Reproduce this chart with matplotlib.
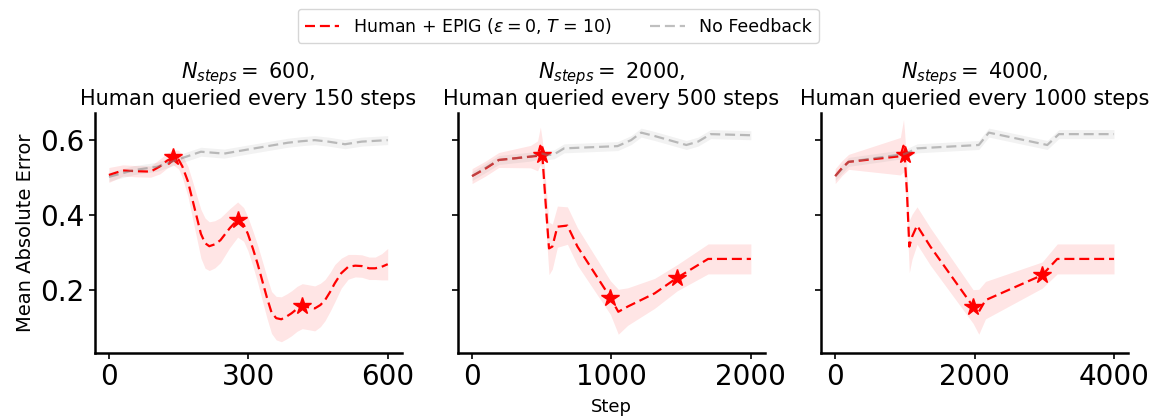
import matplotlib
matplotlib.use("Agg")
import matplotlib.pyplot as plt

# --- data ---
# panel 1: N_steps = 600
p1_red_steps = [0, 30, 60, 90, 110, 125, 138, 150, 158, 170, 180, 190, 198, 207, 216, 228, 240, 260,
                277, 290, 299, 310, 320, 330, 340, 350, 360, 371, 383, 393, 405, 416, 430, 443, 455,
                465, 476, 486, 500, 515, 530, 544, 560, 573, 587, 600]
p1_red_mean = [0.507, 0.519, 0.517, 0.516, 0.53, 0.545, 0.554, 0.548, 0.53, 0.49, 0.44, 0.39, 0.35,
               0.325, 0.317, 0.322, 0.333, 0.365, 0.388, 0.375, 0.35, 0.31, 0.27, 0.225, 0.18, 0.14,
               0.125, 0.122, 0.13, 0.138, 0.15, 0.157, 0.154, 0.151, 0.16, 0.173, 0.195, 0.218, 0.245,
               0.262, 0.265, 0.264, 0.258, 0.258, 0.262, 0.269]
p1_red_std = [0.02, 0.015, 0.015, 0.015, 0.02, 0.02, 0.02, 0.025, 0.03, 0.04, 0.05, 0.058, 0.065,
              0.067, 0.065, 0.063, 0.06, 0.052, 0.047, 0.045, 0.045, 0.047, 0.05, 0.053, 0.055, 0.056,
              0.058, 0.06, 0.06, 0.06, 0.06, 0.06, 0.06, 0.06, 0.058, 0.055, 0.052, 0.05, 0.04, 0.033,
              0.03, 0.03, 0.03, 0.03, 0.035, 0.042]
p1_gray_steps = [0, 54, 104, 155, 198, 248, 299, 342, 385, 414, 443, 472, 508, 544, 600]
p1_gray_mean = [0.502, 0.52, 0.529, 0.551, 0.569, 0.564, 0.575, 0.584, 0.593, 0.597, 0.6, 0.596,
                0.589, 0.596, 0.6]
p1_star_steps = [138, 277, 416]
p1_star_vals = [0.554, 0.388, 0.157]

# panel 2: N_steps = 2000
p2_red_steps = [0, 96, 192, 420, 470, 490, 504, 528, 552, 576, 612, 684, 756, 992, 1049, 1117, 1309,
                1472, 1693, 2000]
p2_red_mean = [0.504, 0.524, 0.547, 0.556, 0.558, 0.585, 0.56, 0.431, 0.311, 0.316, 0.369, 0.372,
               0.316, 0.18, 0.142, 0.156, 0.191, 0.233, 0.283, 0.283]
p2_red_std = [0.02, 0.02, 0.02, 0.03, 0.04, 0.05, 0.04, 0.06, 0.07, 0.06, 0.055, 0.05, 0.05, 0.045,
              0.06, 0.05, 0.04, 0.035, 0.04, 0.04]
p2_gray_steps = [0, 192, 420, 504, 540, 588, 660, 1044, 1141, 1213, 1309, 1537, 1621, 1712, 2000]
p2_gray_mean = [0.504, 0.547, 0.556, 0.564, 0.56, 0.562, 0.578, 0.584, 0.6, 0.62, 0.611, 0.587,
                0.596, 0.616, 0.613]
p2_star_steps = [504, 992, 1472]
p2_star_vals = [0.56, 0.18, 0.233]

# panel 3: N_steps = 4000
p3_red_steps = [0, 96, 192, 934, 980, 996, 1030, 1063, 1102, 1174, 1365, 1978, 2060, 2156, 2970,
                3185, 4000]
p3_red_mean = [0.504, 0.525, 0.542, 0.557, 0.585, 0.56, 0.458, 0.316, 0.342, 0.372, 0.316, 0.156,
               0.142, 0.173, 0.24, 0.283, 0.283]
p3_red_std = [0.02, 0.02, 0.02, 0.05, 0.07, 0.06, 0.07, 0.07, 0.06, 0.05, 0.05, 0.045, 0.06, 0.05,
              0.035, 0.04, 0.04]
p3_gray_steps = [0, 192, 996, 1174, 2060, 2204, 3042, 3209, 4000]
p3_gray_mean = [0.504, 0.542, 0.563, 0.578, 0.587, 0.62, 0.587, 0.616, 0.616]
p3_star_steps = [996, 1978, 2970]
p3_star_vals = [0.56, 0.156, 0.24]

gray_std = 0.012
n_steps = [600, 2000, 4000]
query_every = [150, 500, 1000]
x_ticks = [[0, 300, 600], [0, 1000, 2000], [0, 2000, 4000]]

panels = [
    (p1_red_steps, p1_red_mean, p1_red_std, p1_gray_steps, p1_gray_mean, p1_star_steps, p1_star_vals),
    (p2_red_steps, p2_red_mean, p2_red_std, p2_gray_steps, p2_gray_mean, p2_star_steps, p2_star_vals),
    (p3_red_steps, p3_red_mean, p3_red_std, p3_gray_steps, p3_gray_mean, p3_star_steps, p3_star_vals),
]

fig, axes = plt.subplots(1, 3, figsize=(11.51, 4.19), dpi=100, sharey=True)
fig.subplots_adjust(left=0.0825, right=0.98, bottom=0.1575, top=0.73, wspace=0.184)

dash = (4.5, 2.2)
for i, (ax, p) in enumerate(zip(axes, panels)):
    rs, rm, rsd, gs, gm, ss, sv = p
    lo = [m - s for m, s in zip(rm, rsd)]
    hi = [m + s for m, s in zip(rm, rsd)]
    ax.fill_between(rs, lo, hi, color='red', alpha=0.1, lw=0)
    ax.plot(rs, rm, '--', color='red', lw=1.6, dashes=dash,
            label=r'Human + EPIG ($\epsilon = 0$, $T$ = 10)')
    ax.plot(ss, sv, '*', color='red', markersize=13)
    ax.fill_between(gs, [m - gray_std for m in gm], [m + gray_std for m in gm],
                    color='gray', alpha=0.1, lw=0)
    ax.plot(gs, gm, '--', color='gray', alpha=0.5, lw=1.6, dashes=dash, label='No Feedback')

    ax.set_title(r'$N_{steps} = $ ' + f'{n_steps[i]},\nHuman queried every {query_every[i]} steps',
                 fontsize=15, linespacing=1.1)
    ax.set_xticks(x_ticks[i])
    ax.tick_params(axis='both', labelsize=20, width=1.2, length=4)
    for side in ['top', 'right']:
        ax.spines[side].set_visible(False)
    for side in ['left', 'bottom']:
        ax.spines[side].set_linewidth(1.8)

axes[0].set_ylim(0.032, 0.672)
axes[0].set_yticks([0.2, 0.4, 0.6])
axes[0].set_ylabel('Mean Absolute Error', fontsize=14)
axes[1].set_xlabel('Step', fontsize=13, labelpad=5)

handles, labels = axes[0].get_legend_handles_labels()
fig.legend(handles, labels, loc='upper center', bbox_to_anchor=(0.485, 1.0), ncol=2,
           fontsize=12.5, frameon=True, handlelength=2.0, columnspacing=2.2)

fig.savefig('out.png', dpi=100)
